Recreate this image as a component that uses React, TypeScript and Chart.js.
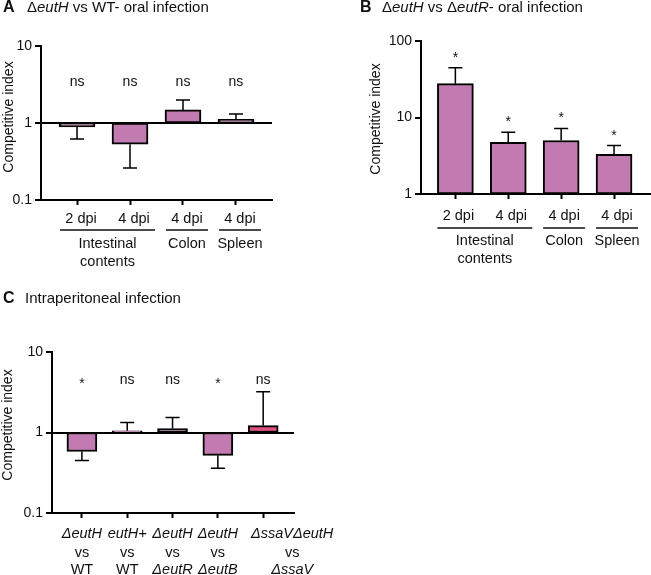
import React, { useEffect, useRef } from "react";
import { Chart, registerables } from "chart.js";

Chart.register(...registerables);

const FONT = '"Liberation Sans", Arial, Helvetica, sans-serif';
const INK = "#111111";
const MAUVE = "#c27bb0";
const PINK = "#e1517f";

// ---------- Panel A: ΔeutH vs WT - oral infection
const aTickLabels = ["2 dpi", "4 dpi", "4 dpi", "4 dpi"];
const aGroupLabels = [["Intestinal", "contents"], ["Colon"], ["Spleen"]];
const aGroupSpans = [[0, 1], [2, 2], [3, 3]];
const aValues = [0.89, 0.53, 1.48, 1.12];
const aErrors = [0.62, 0.26, 1.99, 1.31];
const aSignif = ["ns", "ns", "ns", "ns"];
const aYTicks = [0.1, 1, 10];

// ---------- Panel B: ΔeutH vs ΔeutR - oral infection
const bTickLabels = ["2 dpi", "4 dpi", "4 dpi", "4 dpi"];
const bGroupLabels = [["Intestinal", "contents"], ["Colon"], ["Spleen"]];
const bGroupSpans = [[0, 1], [2, 2], [3, 3]];
const bValues = [27.7, 4.75, 5.0, 3.3];
const bErrors = [44.7, 6.4, 7.2, 4.3];
const bSignif = ["*", "*", "*", "*"];
const bYTicks = [1, 10, 100];

// ---------- Panel C: Intraperitoneal infection
const cLabelsTop = ["_ΔeutH_", "_eutH+_", "_ΔeutH_", "_ΔeutH_", "_ΔssaVΔeutH_"];
const cLabelsMid = ["vs", "vs", "vs", "vs", "vs"];
const cLabelsBottom = ["WT", "WT", "_ΔeutR_", "_ΔeutB_", "_ΔssaV_"];
const cValues = [0.58, 1.05, 1.12, 0.52, 1.22];
const cErrors = [0.45, 1.33, 1.54, 0.36, 3.2];
const cSignif = ["*", "ns", "ns", "*", "ns"];
const cYTicks = [0.1, 1, 10];

const titleA = "Δ_eutH_ vs WT- oral infection";
const titleB = "Δ_eutH_ vs Δ_eutR_- oral infection";
const titleC = "Intraperitoneal infection";
const yTitle = "Competitive index";

function drawRich(ctx: CanvasRenderingContext2D, text: string, x: number, y: number, size: number, align: "left" | "center") {
  const parts = text.split("_");
  const fonts = parts.map((_, i) => `${i % 2 ? "italic " : ""}${size}px ${FONT}`);
  const widths = parts.map((t, i) => {
    ctx.font = fonts[i];
    return ctx.measureText(t).width;
  });
  const total = widths.reduce((a, b) => a + b, 0);
  let cx = align === "center" ? x - total / 2 : x;
  ctx.textAlign = "left";
  parts.forEach((t, i) => {
    ctx.font = fonts[i];
    ctx.fillText(t, cx, y);
    cx += widths[i];
  });
}

type Panel = {
  left: number; top: number; w: number; h: number;
  area: { left: number; top: number; right: number; bottom: number };
  values: number[]; errors: number[]; signif: string[]; yTicks: number[];
  xMin: number; xMax: number; barWidth: number; colors: string[];
  lineAtOne: boolean;
  sigLevel?: number; sigGap?: number;
  letter: string; title: string; letterX: number; titleX: number; titleY: number;
  yTitleX: number; yTitleY: number;
  drawX: (ctx: CanvasRenderingContext2D, px: (i: number) => number, bottom: number) => void;
};

function groupedXLabels(ticks: string[], groups: string[][], spans: number[][], o: { dx: number; hw: number; tickBase: number; lineY: number; g1: number; g2: number }) {
  return (ctx: CanvasRenderingContext2D, px: (i: number) => number, bottom: number) => {
    ctx.fillStyle = INK;
    ctx.textBaseline = "alphabetic";
    ticks.forEach((t, i) => drawRich(ctx, t, px(i) + o.dx, bottom + o.tickBase, 14.5, "center"));
    ctx.strokeStyle = INK;
    ctx.lineWidth = 1.5;
    spans.forEach((s, g) => {
      const x0 = px(s[0]) + o.dx - o.hw;
      const x1 = px(s[1]) + o.dx + o.hw;
      ctx.beginPath();
      ctx.moveTo(x0, bottom + o.lineY);
      ctx.lineTo(x1, bottom + o.lineY);
      ctx.stroke();
      const cx = (px(s[0]) + px(s[1])) / 2 + o.dx;
      groups[g].forEach((line, k) => drawRich(ctx, line, cx, bottom + (k === 0 ? o.g1 : o.g2), 14.5, "center"));
    });
  };
}

const panels: Panel[] = [
  {
    left: 0, top: 0, w: 325, h: 285,
    area: { left: 41, top: 46, right: 272, bottom: 200 },
    values: aValues, errors: aErrors, signif: aSignif, yTicks: aYTicks,
    xMin: -0.68, xMax: 3.68, barWidth: 36, colors: aValues.map(() => MAUVE),
    lineAtOne: true, sigLevel: 3.41,
    letter: "A", title: titleA, letterX: 3, titleX: 27, titleY: 8,
    yTitleX: 9, yTitleY: 117,
    drawX: groupedXLabels(aTickLabels, aGroupLabels, aGroupSpans, { dx: 4, hw: 21, tickBase: 23, lineY: 30, g1: 48, g2: 66 }),
  },
  {
    left: 325, top: 0, w: 326, h: 285,
    area: { left: 96, top: 41, right: 325, bottom: 194 },
    values: bValues, errors: bErrors, signif: bSignif, yTicks: bYTicks,
    xMin: -0.65, xMax: 3.68, barWidth: 36, colors: bValues.map(() => MAUVE),
    lineAtOne: false, sigGap: 14,
    letter: "B", title: titleB, letterX: 35, titleX: 57, titleY: 8,
    yTitleX: 51, yTitleY: 119,
    drawX: groupedXLabels(bTickLabels, bGroupLabels, bGroupSpans, { dx: 3, hw: 21, tickBase: 26, lineY: 34, g1: 51, g2: 69 }),
  },
  {
    left: 0, top: 285, w: 340, h: 290,
    area: { left: 52, top: 67, right: 294, bottom: 228 },
    values: cValues, errors: cErrors, signif: cSignif, yTicks: cYTicks,
    xMin: -0.66, xMax: 4.68, barWidth: 30, colors: cValues.map((_, i) => (i === 4 ? PINK : MAUVE)),
    lineAtOne: true, sigLevel: 4.49,
    letter: "C", title: titleC, letterX: 3, titleX: 25, titleY: 14,
    yTitleX: 8, yTitleY: 140,
    drawX: (ctx, px, bottom) => {
      ctx.fillStyle = INK;
      ctx.textBaseline = "alphabetic";
      const shift = (i: number) => (i === 4 ? 29 : 0);
      cLabelsTop.forEach((t, i) => drawRich(ctx, t, px(i) + shift(i), bottom + 25, 14.5, "center"));
      cLabelsMid.forEach((t, i) => drawRich(ctx, t, px(i) + shift(i), bottom + 44, 14.5, "center"));
      cLabelsBottom.forEach((t, i) => drawRich(ctx, t, px(i) + shift(i), bottom + 61, 14.5, "center"));
    },
  },
];

function buildChart(canvas: HTMLCanvasElement, p: Panel) {
  const data = p.values.map((v, i) => ({ x: i, y: [1, v] }));
  const deco = {
    id: "panelDeco",
    afterDatasetsDraw(chart: any) {
      const ctx: CanvasRenderingContext2D = chart.ctx;
      const xs = chart.scales.x;
      const ys = chart.scales.y;
      ctx.save();
      ctx.strokeStyle = "#000";
      ctx.lineWidth = 1.5;
      p.values.forEach((v, i) => {
        const x = xs.getPixelForValue(i);
        const y0 = ys.getPixelForValue(v);
        const y1 = ys.getPixelForValue(p.errors[i]);
        ctx.beginPath();
        ctx.moveTo(x, y0);
        ctx.lineTo(x, y1);
        ctx.moveTo(x - 7, y1);
        ctx.lineTo(x + 7, y1);
        ctx.stroke();
      });
      ctx.fillStyle = INK;
      ctx.textBaseline = "alphabetic";
      ctx.textAlign = "center";
      ctx.font = `14px ${FONT}`;
      p.signif.forEach((s, i) => {
        const x = xs.getPixelForValue(i);
        const cy = p.sigLevel !== undefined ? ys.getPixelForValue(p.sigLevel) : ys.getPixelForValue(p.errors[i]) - (p.sigGap || 0);
        ctx.fillText(s, x, cy + (s === "*" ? 8 : 3.7));
      });
      ctx.restore();
    },
    afterDraw(chart: any) {
      const ctx: CanvasRenderingContext2D = chart.ctx;
      const xs = chart.scales.x;
      ctx.save();
      ctx.fillStyle = INK;
      ctx.textBaseline = "middle";
      ctx.textAlign = "left";
      ctx.font = `bold 16px ${FONT}`;
      ctx.fillText(p.letter, p.letterX, p.titleY);
      drawRich(ctx, p.title, p.titleX, p.titleY, 15, "left");
      ctx.save();
      ctx.translate(p.yTitleX, p.yTitleY);
      ctx.rotate(-Math.PI / 2);
      ctx.textAlign = "center";
      ctx.textBaseline = "middle";
      ctx.font = `14px ${FONT}`;
      ctx.fillText(yTitle, 0, 0);
      ctx.restore();
      p.drawX(ctx, (i) => xs.getPixelForValue(i), chart.chartArea.bottom);
      ctx.restore();
    },
  };
  return new Chart(canvas, {
    type: "bar",
    data: {
      datasets: [
        {
          data: data as any,
          backgroundColor: p.colors,
          borderColor: "#000",
          borderWidth: 2,
          borderSkipped: false,
          barThickness: p.barWidth,
        } as any,
      ],
    },
    options: {
      animation: false,
      responsive: false,
      devicePixelRatio: 1,
      layout: { padding: { left: 0, top: p.area.top, right: p.w - p.area.right, bottom: 0 } },
      plugins: { legend: { display: false }, tooltip: { enabled: false }, title: { display: false } },
      scales: {
        x: {
          type: "linear",
          min: p.xMin,
          max: p.xMax,
          offset: false,
          afterBuildTicks: (s: any) => {
            s.ticks = p.values.map((_, i) => ({ value: i }));
          },
          afterFit: (s: any) => {
            s.height = p.h - p.area.bottom;
          },
          ticks: { display: false },
          grid: { offset: false, drawOnChartArea: false, drawTicks: true, tickLength: 5, tickColor: "#000", tickWidth: 2, color: "#000" },
          border: { display: true, color: "#000", width: 2 },
        },
        y: {
          type: "logarithmic",
          min: p.yTicks[0],
          max: p.yTicks[p.yTicks.length - 1],
          afterBuildTicks: (s: any) => {
            s.ticks = p.yTicks.map((v) => ({ value: v }));
          },
          afterFit: (s: any) => {
            s.width = p.area.left;
          },
          ticks: {
            callback: (v: any) => String(v),
            font: { family: FONT, size: 14 },
            color: INK,
            padding: 3,
            autoSkip: false,
          },
          grid: {
            offset: false,
            color: (c: any) => (p.lineAtOne && c.tick && c.tick.value === 1 ? "#000" : "rgba(0,0,0,0)"),
            lineWidth: 2,
            tickColor: "#000",
            tickLength: 6,
            tickWidth: 2,
            drawTicks: true,
          },
          border: { display: true, color: "#000", width: 2 },
        },
      },
    } as any,
    plugins: [deco],
  });
}

function PanelCanvas({ p }: { p: Panel }) {
  const ref = useRef<HTMLCanvasElement | null>(null);
  useEffect(() => {
    if (!ref.current) return;
    const chart = buildChart(ref.current, p);
    return () => chart.destroy();
  }, [p]);
  return (
    <canvas
      ref={ref}
      width={p.w}
      height={p.h}
      style={{ position: "absolute", left: p.left, top: p.top, width: p.w, height: p.h }}
    />
  );
}

export default function App() {
  return (
    <div style={{ position: "absolute", left: 0, top: 0, width: 651, height: 575, background: "#fff", overflow: "hidden" }}>
      {panels.map((p, i) => (
        <PanelCanvas key={i} p={p} />
      ))}
    </div>
  );
}
